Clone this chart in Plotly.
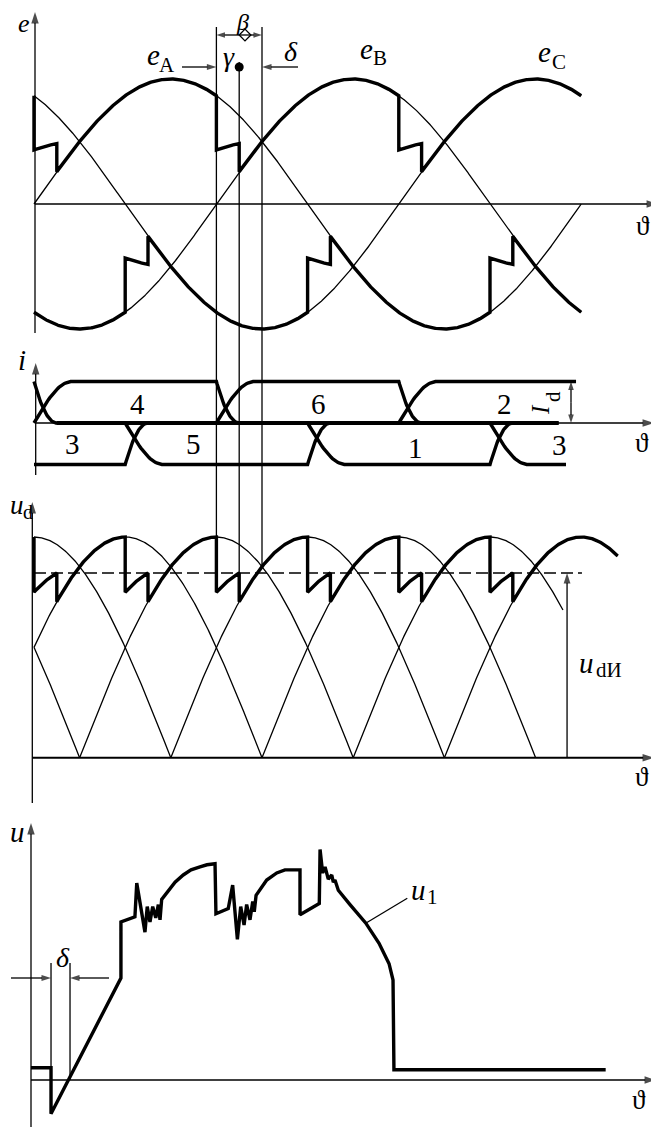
import numpy as np
import plotly.graph_objects as go

W, H = 659, 1127            # browser window
OFF = 8                     # default page margin around the plot div
FW, FH = W - OFF, H - OFF   # figure size
X0_PX, PX_PER_DEG = 34.0, 1.52            # theta (deg) -> page pixel
FONT = "Liberation Serif, DejaVu Serif, serif"
THICK, THIN = 3.4, 1.3

# ---------------- values ----------------
PHASE_NAMES = ["A", "B", "C"]
PHASE_LAG = [0, 120, 240]                 # deg
E_AMP = 1.0
THETA_END = 360

FIRE_POS = [0, 120, 240]                  # firing angles, upper (positive) group
COND_POS = ["C", "A", "B", "C"]
FIRE_NEG = [60, 180, 300]                 # firing angles, lower (negative) group
COND_NEG = ["B", "C", "A", "B"]
GAMMA = 15                                # overlap angle
BETA_MARKS = [120, 135, 150]              # beta start, end of overlap, natural commutation

# valve currents (units of Id): (start level, start angle, [(switch angle, new level)], end angle)
I_UP = {"4": (0, 0, [(0, 1), (120, 0)], 345),
        "6": (0, 15, [(120, 1), (240, 0)], 345),
        "2": (1, 0, [(0, 0), (240, 1)], 356.6)}
I_LO = {"3": (-1, 0, [(60, 0), (300, -1)], 350),
        "5": (0, 15, [(60, -1), (180, 0)], 345),
        "1": (0, 15, [(180, -1), (300, 0)], 345)}
TAU_ON, TAU_OFF = 25, 15

# rectified voltage ud (per unit of line-voltage peak)
UD_ARC_PEAK = [-60, 0, 60, 120, 180, 240, 300, 360]
UD_ARC_STOP = [30, 90, 150, 210, 270, 330, 348, 384]
UD_END = 384
UD_MEAN = 0.837
UD_MEAN_END = 360.5
UD_MEAN_ARROW = 350.7

# valve voltage u1
U_THETA = [-2.0, 11.2, 11.2, 57.2, 57.2, 66.4, 67.6, 73.0, 74.5, 76.3, 78.1, 80.1, 81.8,
           82.9, 84.0, 88.4, 92.8, 98.2, 103.3, 109.2, 113.8, 119.1, 119.7, 127.8, 130.7,
           133.8, 136.0, 138.2, 139.9, 142.1, 143.9, 144.9, 146.1, 153.1, 159.7, 165.1,
           175.0, 175.0, 187.7, 188.2, 189.9, 191.5, 193.6, 195.9, 196.9, 198.0, 200.2,
           207.9, 218.2, 227.0, 233.6, 236.2, 236.8, 376.1]
U_VALUE = [0.12, 0.12, -0.33, 1.0, 1.55, 1.60, 1.93, 1.45, 1.70, 1.55, 1.70, 1.59, 1.72,
           1.57, 1.77, 1.86, 1.94, 2.01, 2.06, 2.09, 2.11, 2.12, 1.63, 1.68, 1.91,
           1.38, 1.70, 1.52, 1.72, 1.57, 1.75, 1.65, 1.81, 1.96, 2.03, 2.06,
           2.06, 1.62, 1.73, 2.26, 2.03, 2.09, 1.97, 2.01, 1.94, 1.96, 1.86,
           1.72, 1.54, 1.34, 1.14, 0.98, 0.10, 0.10]
U_DELTA = [11.2, 23.7]
U_LEVEL = 1.0

# ---------------- panels (page px): (top, bottom, zero line, px per unit) ----------------
PANELS = [(0, 345, 204, 125), (345, 485, 423, 41.5), (485, 810, 757.7, 220.7), (810, 1127, 1080, 102)]


def th(px):
    return (px - X0_PX) / PX_PER_DEG


def vv(p, py):
    _, _, z, s = PANELS[p]
    return (z - py) / s


def py2paper(py):
    return 1 - (py - OFF) / FH


def paper_y(p, v):
    _, _, z, s = PANELS[p]
    return py2paper(z - v * s)


def e(ph, t):
    return E_AMP * np.sin(np.radians(t - PHASE_LAG[PHASE_NAMES.index(ph)]))


def group_val(t, fires, cond):
    k = sum(1 for f in fires if f <= t)
    if k > 0 and t < fires[k - 1] + GAMMA:
        return 0.5 * (e(cond[k - 1], t) + e(cond[k], t))
    return e(cond[k], t)


def pos_env(t):
    return group_val(t, FIRE_POS, COND_POS)


def neg_env(t):
    return group_val(t, FIRE_NEG, COND_NEG)


def ud_env(t):
    return (pos_env(t) - neg_env(t)) / np.sqrt(3)


def env_points(func, t0, t1, breaks):
    bs = sorted(set(b for b in breaks if t0 <= b <= t1))
    grid = sorted(set(list(np.arange(t0, t1 + 1e-9, 0.5)) + bs))
    xs, ys = [], []
    for t in grid:
        if t in bs:
            xs.append(t); ys.append(func(t - 1e-9))
        xs.append(t); ys.append(func(t))
    return xs, ys


def current_pts(level0, t0, events, t1):
    xs, ys, cur = [t0], [level0], level0
    s = np.linspace(0, 1, 30)[1:]
    for ts, tgt in events:
        xs.append(ts); ys.append(cur)
        rising = abs(tgt) > abs(cur)
        dur = TAU_ON if rising else TAU_OFF
        frac = np.sin(np.pi / 2 * s) if rising else 1 - (1 - s) ** 2
        for si, fi in zip(s, frac):
            xs.append(ts + dur * si); ys.append(cur + (tgt - cur) * fi)
        cur = tgt
    xs.append(t1); ys.append(cur)
    return xs, ys


fig = go.Figure()
ann = []


def ax_id(p):
    return "" if p == 0 else str(p + 1)


def line(p, x, y, width=THIN, dash=None):
    fig.add_trace(go.Scatter(x=x, y=y, mode="lines", xaxis="x" + ax_id(p), yaxis="y" + ax_id(p),
                             line=dict(color="black", width=width, dash=dash), hoverinfo="skip",
                             cliponaxis=False))


def arrow(p, xh, yh, xt, yt, width=THIN, size=12):
    fig.add_trace(go.Scatter(x=[xt, xh], y=[yt, yh], mode="lines+markers",
                             xaxis="x" + ax_id(p), yaxis="y" + ax_id(p),
                             line=dict(color="black", width=width),
                             marker=dict(symbol="arrow", angleref="previous", size=[0, size],
                                         color="black", line=dict(width=0)),
                             hoverinfo="skip", cliponaxis=False))


def text(s, xpx, ypx, size=29, angle=0):
    ann.append(dict(text=s, x=(xpx - OFF) / FW, y=py2paper(ypx), xref="paper", yref="paper",
                    xanchor="center", yanchor="middle", showarrow=False,
                    font=dict(family=FONT, size=size, color="black"), textangle=angle))


def label(main, sub, xm, ym, xs, ys, size=29, subsize=21, angle=0):
    text("<i>%s</i>" % main, xm, ym, size, angle)
    text(sub, xs, ys, subsize, angle)


# ---------- panel 1 : phase e.m.f.s ----------
tt = np.arange(0, THETA_END + 1e-9, 0.5)
for ph in PHASE_NAMES:
    line(0, tt, e(ph, tt))
x, y = env_points(pos_env, 0, THETA_END, FIRE_POS + [f + GAMMA for f in FIRE_POS])
line(0, x, y, THICK)
x, y = env_points(neg_env, 0, THETA_END, FIRE_NEG + [f + GAMMA for f in FIRE_NEG])
line(0, x, y, THICK)
arrow(0, th(35), vv(0, 12), th(35), vv(0, 333))
arrow(0, th(658), 0, th(35), 0)
ymid = vv(0, 35)
arrow(0, BETA_MARKS[0], ymid, BETA_MARKS[1], ymid, size=9)
arrow(0, BETA_MARKS[2], ymid, BETA_MARKS[1], ymid, size=9)
fig.add_trace(go.Scatter(x=[th(245)], y=[ymid], mode="markers", hoverinfo="skip",
                         marker=dict(symbol="diamond-open", size=9, color="black", line=dict(width=1.3))))
arrow(0, BETA_MARKS[0], vv(0, 67), th(182), vv(0, 67), size=10)
arrow(0, BETA_MARKS[2], vv(0, 67), th(298), vv(0, 67), size=10)
fig.add_trace(go.Scatter(x=[BETA_MARKS[1]], y=[vv(0, 67)], mode="markers", marker=dict(color="black", size=9),
                         hoverinfo="skip"))
text("<i>e</i>", 24, 23, 26)
text("<i>β</i>", 243, 22, 24)
text("<i>γ</i>", 229, 56, 28)
text("<i>δ</i>", 291, 52, 28)
label("e", "A", 153, 55, 167, 65)
label("e", "B", 366, 49, 380, 58)
label("e", "C", 544, 52, 559, 62)
text("ϑ", 643, 226, 27)

# vertical guide lines through the panels
tops = [27, 62, 27]
bottoms = [ud_env(BETA_MARKS[0] - 1e-9), ud_env(BETA_MARKS[1]), ud_env(BETA_MARKS[2])]
shapes = []
for b, tp, bt in zip(BETA_MARKS, tops, bottoms):
    shapes.append(dict(type="line", xref="x", yref="paper", x0=b, x1=b, y0=py2paper(tp), y1=paper_y(2, bt),
                       line=dict(color="black", width=THIN)))

# ---------- panel 2 : valve currents ----------
for d in (I_UP, I_LO):
    for k, (l0, t0, ev, t1) in d.items():
        x, y = current_pts(l0, t0, ev, t1)
        line(1, x, y, THICK)
arrow(1, th(35.7), vv(1, 363), th(35.7), vv(1, 475))
arrow(1, th(654), 0, th(35.7), 0)
arrow(1, th(571), 1, th(571), 0.5, size=9)
arrow(1, th(571), 0, th(571), 0.5, size=9)
text("<i>i</i>", 22, 360)
for s, xp, yp in [("4", 137, 404), ("6", 318, 404), ("2", 504, 404), ("3", 72, 444),
                  ("5", 193, 444), ("1", 416, 448), ("3", 559, 445)]:
    text(s, xp, yp, 29)
label("I", "d", 540, 410, 553, 397, size=25, subsize=21, angle=-90)
text("ϑ", 642, 443, 27)

# ---------- panel 3 : rectified voltage ----------
for pk, stop in zip(UD_ARC_PEAK, UD_ARC_STOP):
    ta = np.arange(max(0, pk - 90), stop + 1e-9, 0.5)
    line(2, ta, np.cos(np.radians(ta - pk)))
brk = FIRE_POS + [f + GAMMA for f in FIRE_POS] + FIRE_NEG + [f + GAMMA for f in FIRE_NEG]
x, y = env_points(ud_env, 0, UD_END, brk)
line(2, x, y, THICK)
line(2, [0, UD_MEAN_END], [UD_MEAN, UD_MEAN], 1.5, dash="12px,5px")
arrow(2, th(32.3), vv(2, 502), th(32.3), vv(2, 803))
arrow(2, th(654), 0, th(32.3), 0, width=2.0)
arrow(2, UD_MEAN_ARROW, UD_MEAN, UD_MEAN_ARROW, 0, size=11)
label("u", "d", 17, 505, 28, 512, size=27, subsize=20)
label("u", "dИ", 586, 663, 609, 670)
text("ϑ", 642, 777, 27)

# ---------- panel 4 : valve voltage ----------
line(3, U_THETA, U_VALUE, THICK)
line(3, [U_DELTA[0], U_DELTA[0]], [vv(3, 963), U_VALUE[1]])
line(3, [U_DELTA[1], U_DELTA[1]], [vv(3, 963), 0])
line(3, [th(365.7), th(407.3)], [vv(3, 923.3), vv(3, 898.3)])
arrow(3, U_DELTA[0], U_LEVEL, th(11), U_LEVEL, size=10)
arrow(3, U_DELTA[1], U_LEVEL, th(109), U_LEVEL, size=10)
arrow(3, th(31), vv(3, 823), th(31), vv(3, 1127))
arrow(3, th(656), 0, th(31), 0)
text("<i>u</i>", 17, 832)
text("<i>δ</i>", 63, 957, 28)
label("u", "1", 418, 890, 432, 897)
text("ϑ", 639, 1100, 27)

layout = dict(width=FW, height=FH, margin=dict(l=0, r=0, t=0, b=0), showlegend=False,
              paper_bgcolor="white", plot_bgcolor="white", annotations=ann, shapes=shapes)
xr = [th(OFF), th(W)]
for p, (top, bot, z, s) in enumerate(PANELS):
    n = ax_id(p)
    top = max(top, OFF)
    layout["xaxis" + n] = dict(domain=[0, 1], range=xr, visible=False, anchor="y" + n, fixedrange=True)
    layout["yaxis" + n] = dict(domain=[py2paper(bot), py2paper(top)], range=[(z - bot) / s, (z - top) / s],
                               visible=False, anchor="x" + n, fixedrange=True)
fig.update_layout(**layout)
fig.write_html("out.html")
